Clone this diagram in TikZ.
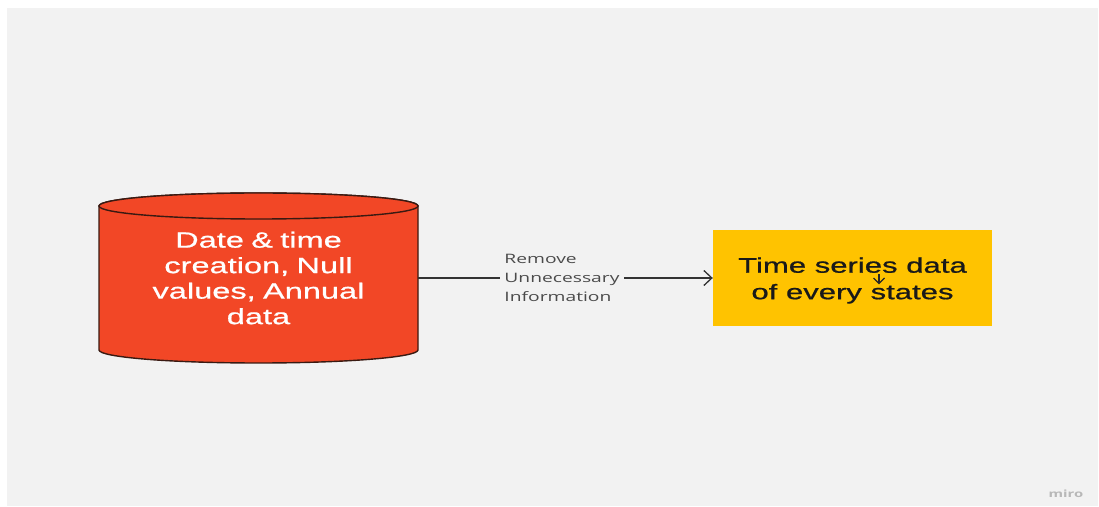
\documentclass[tikz,border=0pt]{standalone}
\usepackage{fontspec}
\setmainfont{Liberation Sans}
\newfontfamily\widefont[FakeStretch=1.48,FakeBold=0.8]{Liberation Sans}
\newfontfamily\labelfont[FakeStretch=1.48]{Open Sans}
\usetikzlibrary{arrows.meta}
\definecolor{bggrey}{HTML}{F2F2F2}
\definecolor{cylred}{HTML}{F24726}
\definecolor{cyledge}{HTML}{3A1A12}
\definecolor{boxyellow}{HTML}{FFC300}
\definecolor{linegrey}{HTML}{333333}
\definecolor{labelgrey}{HTML}{4A4A4A}
\definecolor{mirogrey}{HTML}{B8B8B8}
\tikzset{
  dbtext/.style={text=white, font=\widefont\fontsize{22}{25.5}\selectfont, align=center,
    text width=319pt, inner xsep=0pt, inner ysep=0pt},
  tsbox/.style={fill=boxyellow, minimum width=279pt, minimum height=96pt, inner sep=0pt},
  tstext/.style={align=center, inner sep=0pt, font=\widefont\fontsize{21}{26.5}\selectfont, text=black!90},
  flow/.style={draw=linegrey, line width=1.3pt, -{Straight Barb[length=8pt,width=15pt,line width=1.3pt]}},
  flowlabel/.style={fill=bggrey, align=left, text=labelgrey, inner xsep=4.5pt,
    font=\labelfont\fontsize{13}{19}\selectfont},
  cylbody/.style={fill=cylred, draw=cyledge, line width=1.4pt}
}
\begin{document}
\begin{tikzpicture}[x=1pt,y=1pt]
\useasboundingbox (0,0) rectangle (1099,506);
\fill[white] (0,0) rectangle (1099,506);
\fill[bggrey] (7,0) rectangle (1098,498);
% cylinder
\path[cylbody] (99,300) -- (99,156)
  arc[start angle=180, end angle=360, x radius=159.5, y radius=13]
  -- (418,300)
  arc[start angle=0, end angle=180, x radius=159.5, y radius=13] -- cycle;
\draw[cylbody] (258.5,300) ellipse[x radius=159.5, y radius=13];
\node[dbtext] (db) at (258.5,228) {Date \& time\\creation, Null\\values, Annual\\data};
% box
\node[tsbox] (ts) at (852.5,228) {};
\node[tstext] (tst) at ([yshift=-2.5pt]ts.center) {Time series data\\of every states};
% connector
\draw[flow] (db.east) -- (ts.west)
  node[flowlabel, pos=0.488] (lbl) {Remove\\Unnecessary\\Information};
% cursor mark
\draw[black!85, line width=1.3pt] (879,231.5) -- (879,222.5);
\draw[black!85, line width=1.3pt] (873.5,228) -- (879,222.5) -- (884.5,228);
% watermark
\node[text=mirogrey, font=\labelfont\bfseries\fontsize{10}{12}\selectfont] (miro) at (1066,12) {miro};
\end{tikzpicture}
\end{document}
